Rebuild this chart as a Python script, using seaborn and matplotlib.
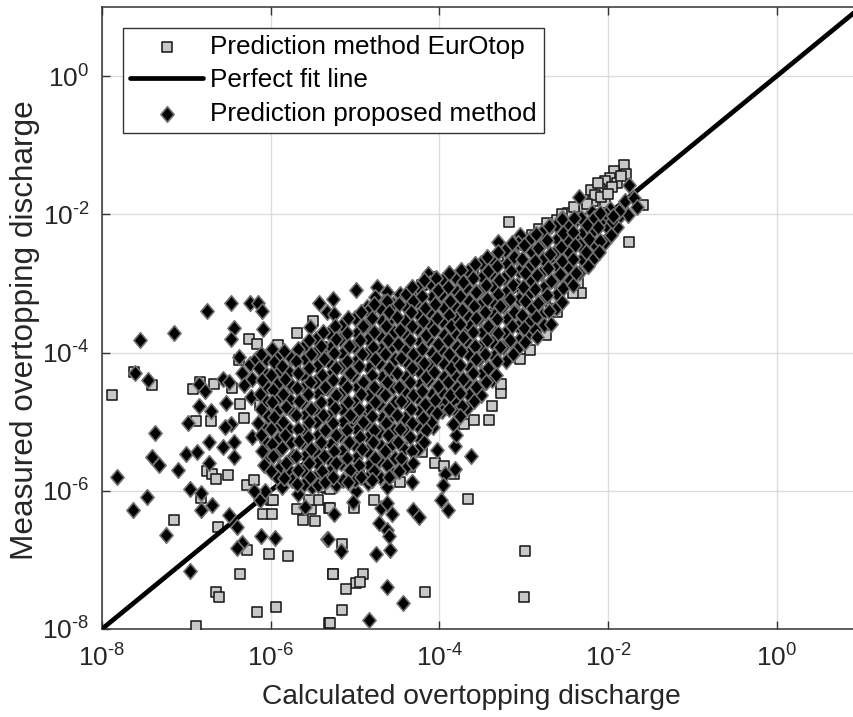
import numpy as np
import pandas as pd
import matplotlib
matplotlib.use("Agg")
import matplotlib.pyplot as plt
from matplotlib.path import Path
import seaborn as sns

# values are log10 of (calculated, measured) discharge
eurotop_points = [
(-7.88,-4.61),(-7.62,-4.28),(-7.41,-4.47),(-6.84,-4.42),(-6.92,-4.53),(-6.67,-4.46),(-6.46,-4.51),(-6.36,-4.75),
(-6.32,-4.94),(-6.88,-4.99),(-6.71,-4.99),(-6.75,-5.72),(-6.69,-5.75),(-6.65,-5.83),(-6.51,-5.77),(-6.28,-5.92),
(-6.2,-5.85),(-6.83,-6.11),(-7.15,-6.42),(-6.63,-6.53),(-6.28,-6.85),(-6.02,-6.92),(-5.79,-6.94),(-6.36,-7.2),
(-6.65,-7.47),(-6.61,-7.54),(-5.94,-7.68),(-6.16,-7.75),(-6.88,-7.95),(-5.31,-7.92),(-5.26,-7.2),(-6.26,-3.81),
(-6.16,-3.87),(-5.69,-3.72),(-5.5,-3.54),(-5.42,-3.93),(-5.91,-3.89),(-6.38,-4.11),(-5.95,-4.47),(-6.13,-4.76),
(-6.0,-4.76),(-5.85,-4.57),(-5.59,-4.23),(-5.51,-4.12),(-6.0,-6.13),(-5.97,-6.13),(-6.09,-6.33),(-5.98,-6.33),
(-5.69,-6.27),(-5.62,-6.42),(-5.48,-6.44),(-5.52,-6.27),(-5.44,-6.13),(-5.55,-6.13),(-5.31,-6.25),(-5.33,-5.96),
(-5.38,-5.94),(-3.66,-6.12),(-2.98,-6.87),(-3.0,-7.54),(-4.17,-7.47),(-4.91,-7.2),(-5.26,-7.2),(-4.99,-7.34),
(-4.94,-7.32),(-5.11,-7.42),(-5.15,-7.73),(-5.3,-7.92),(-5.15,-6.77),(-4.78,-6.13),(-5.01,-6.25),(-5.3,-6.25),
(-4.05,-5.6),(-3.95,-5.64),(-3.83,-5.76),(-4.47,-5.87),(-4.66,-5.7),(-4.95,-5.77),(-3.41,-4.97),(-3.37,-4.78),
(-3.27,-4.59),(-3.27,-4.45),(-2.92,-3.97),(-3.04,-4.1),(-3.22,-3.82),(-3.71,-5.04),(-3.59,-4.97),(-4.07,-4.82),
(-3.95,-4.74),(-4.01,-4.88),(-4.62,-3.58),(-4.7,-3.48),(-4.6,-3.41),(-5.24,-3.72),(-5.39,-3.92),(-2.73,-3.75),
(-2.6,-3.41),(-4.39,-5.24),(-4.21,-5.44),(-4.64,-5.44),(-5.16,-5.36),(-4.35,-5.65),(-5.3,-5.97),(-1.81,-1.28),
(-1.79,-1.41),(-1.93,-1.37),(-1.98,-1.47),(-2.03,-1.52),(-1.89,-1.55),(-2.1,-1.64),(-2.2,-1.65),(-2.18,-1.8),
(-2.29,-1.92),(-1.59,-1.87),(-1.75,-2.4),(-3.17,-2.11),(-2.82,-2.21),(-2.48,-1.98),(-2.35,-3.0),(-2.32,-3.14),
(-2.41,-3.14),(-2.47,-3.01),(-2.67,-3.36),(-2.63,-3.22),(-2.03,-1.84),(-2.9,-2.3),(-3.05,-2.45),(-2.15,-1.72),
(-2.25,-1.85),(-2.6,-2.08),(-1.95,-1.6),(-2.08,-1.75),(-3.3,-2.6),(-3.6,-2.85),(-4.2,-3.02),(-4.1,-2.9),
(-2.4,-1.9),(-2.0,-1.7),(-2.12,-1.55),(-1.85,-1.45),(-2.55,-2.0),(-2.72,-2.12),
]

proposed_outliers = [
(-6.75,-3.4),(-6.47,-3.28),(-6.24,-3.28),(-6.15,-3.28),(-6.1,-3.4),(-7.55,-3.82),(-7.15,-3.72),(-6.43,-3.65),
(-6.47,-3.81),(-6.09,-3.66),(-5.43,-3.28),(-5.33,-3.41),(-5.53,-3.63),(-7.61,-4.3),(-7.45,-4.39),(-6.85,-4.46),
(-6.78,-4.56),(-6.57,-4.38),(-6.5,-4.42),(-6.53,-4.73),(-6.85,-4.78),(-6.71,-4.84),(-6.98,-5.02),(-6.47,-5.04),
(-6.54,-5.08),(-7.37,-5.16),(-6.73,-5.3),(-6.43,-5.3),(-6.57,-5.37),(-7.0,-5.47),(-6.87,-5.44),(-6.43,-5.51),
(-7.41,-5.51),(-7.33,-5.63),(-6.73,-5.6),(-7.1,-5.7),(-7.82,-5.8),(-6.96,-5.98),(-6.83,-6.03),(-7.47,-6.09),
(-6.69,-6.2),(-6.83,-6.28),(-7.63,-6.28),(-6.49,-6.35),(-6.4,-6.52),(-7.24,-6.64),(-6.34,-6.75),(-6.4,-6.83),
(-6.12,-6.66),(-5.95,-6.68),(-5.33,-6.7),(-6.96,-7.16),(-6.37,-4.07),(-6.25,-4.16),(-6.17,-4.09),(-6.34,-4.29),
(-6.22,-4.38),(-6.32,-4.47),(-6.23,-4.65),(-6.13,-6.13),(-6.07,-6.01),(-6.2,-6.01),(-5.87,-5.94),(-5.67,-6.05),
(-5.51,-5.95),(-5.59,-6.24),(-6.22,-5.22),(-4.99,-3.09),(-5.26,-3.22),(-4.74,-3.05),(-4.62,-3.12),(-4.47,-3.15),
(-4.27,-3.1),(-4.13,-2.86),(-4.66,-3.27),(-4.76,-3.19),(-5.25,-3.44),(-4.86,-3.34),(-3.62,-5.49),(-3.82,-5.68),
(-3.93,-5.76),(-3.96,-5.92),(-4.03,-5.41),(-3.82,-5.35),(-3.8,-5.19),(-3.84,-5.04),(-4.07,-5.08),(-4.33,-5.87),
(-4.62,-5.94),(-3.98,-6.14),(-3.9,-6.28),(-4.31,-6.28),(-4.24,-6.38),(-4.56,-6.33),(-4.69,-6.25),(-4.62,-6.18),
(-5.25,-6.33),(-4.99,-6.01),(-5.02,-6.16),(-4.85,-5.89),(-5.22,-5.92),(-4.72,-6.47),(-4.62,-6.57),(-4.6,-6.66),
(-4.58,-6.85),(-4.75,-6.92),(-5.32,-6.7),(-5.17,-6.87),(-4.62,-7.39),(-4.43,-7.63),(-4.83,-7.87),(-2.34,-1.75),
(-1.75,-1.58),(-1.8,-1.81),(-1.69,-1.77),(-1.66,-1.89),(-1.98,-1.92),(-1.76,-2.01),(-1.88,-2.05),(-3.04,-2.3),
(-3.31,-2.4),(-2.1,-2.11),(-2.19,-1.96),(-2.37,-2.07),(-2.54,-2.05),(-2.67,-2.17),(-2.23,-2.22),(-2.05,-2.4),
]

proposed_core = [
(-6.12,-4.02),(-6.14,-4.22),(-6.1,-4.4),(-6.13,-4.6),(-6.11,-4.82),(-6.15,-5.02),(-6.12,-5.2),(-6.1,-5.42),(-6.08,-5.62),
(-5.98,-3.95),(-5.96,-4.14),(-6.0,-4.33),(-5.97,-4.54),(-5.99,-4.72),(-5.96,-4.93),(-6.0,-5.11),(-5.98,-5.33),(-5.97,-5.5),(-6.0,-5.72),
(-5.84,-3.98),(-5.86,-4.2),(-5.83,-4.38),(-5.85,-4.6),(-5.82,-4.79),(-5.85,-5.0),(-5.83,-5.2),(-5.86,-5.38),(-5.82,-5.6),(-5.84,-5.82),
(-5.68,-3.95),(-5.7,-4.12),(-5.67,-4.3),(-5.69,-4.52),(-5.66,-4.7),(-5.7,-4.9),(-5.68,-5.1),(-5.66,-5.28),(-5.7,-5.5),(-5.67,-5.7),(-5.69,-5.9),
(-5.54,-3.82),(-5.52,-4.02),(-5.55,-4.22),(-5.53,-4.42),(-5.56,-4.6),(-5.52,-4.82),(-5.54,-5.0),(-5.56,-5.22),(-5.52,-5.4),(-5.55,-5.6),(-5.53,-5.8),
(-5.38,-3.7),(-5.4,-3.9),(-5.37,-4.1),(-5.39,-4.32),(-5.36,-4.5),(-5.4,-4.72),(-5.38,-4.9),(-5.36,-5.12),(-5.4,-5.3),(-5.37,-5.5),(-5.39,-5.72),(-5.36,-5.88),
(-5.24,-3.62),(-5.22,-3.8),(-5.25,-4.0),(-5.23,-4.22),(-5.26,-4.4),(-5.22,-4.62),(-5.24,-4.8),(-5.26,-5.02),(-5.22,-5.2),(-5.25,-5.42),(-5.23,-5.6),(-5.26,-5.8),
(-5.08,-3.5),(-5.1,-3.72),(-5.07,-3.9),(-5.09,-4.12),(-5.06,-4.3),(-5.1,-4.5),(-5.08,-4.72),(-5.06,-4.9),(-5.1,-5.12),(-5.07,-5.3),(-5.09,-5.52),(-5.06,-5.7),(-5.08,-5.88),
(-4.93,-3.42),(-4.91,-3.62),(-4.94,-3.82),(-4.92,-4.02),(-4.95,-4.2),(-4.91,-4.42),(-4.93,-4.6),(-4.95,-4.82),(-4.91,-5.0),(-4.94,-5.22),(-4.92,-5.4),(-4.95,-5.62),(-4.93,-5.8),
(-4.78,-3.3),(-4.8,-3.5),(-4.77,-3.7),(-4.79,-3.92),(-4.76,-4.1),(-4.8,-4.32),(-4.78,-4.5),(-4.76,-4.72),(-4.8,-4.92),(-4.77,-5.12),(-4.79,-5.3),(-4.76,-5.52),(-4.78,-5.72),(-4.8,-5.85),
(-4.62,-3.25),(-4.6,-3.42),(-4.63,-3.62),(-4.61,-3.82),(-4.64,-4.02),(-4.6,-4.22),(-4.62,-4.42),(-4.64,-4.62),(-4.6,-4.82),(-4.63,-5.02),(-4.61,-5.2),(-4.64,-5.42),(-4.62,-5.62),(-4.6,-5.8),
(-4.48,-3.3),(-4.5,-3.48),(-4.47,-3.68),(-4.49,-3.88),(-4.46,-4.08),(-4.5,-4.3),(-4.48,-4.5),(-4.46,-4.7),(-4.5,-4.9),(-4.47,-5.1),(-4.49,-5.3),(-4.46,-5.52),(-4.48,-5.72),
(-4.33,-3.05),(-4.31,-3.25),(-4.34,-3.42),(-4.32,-3.62),(-4.35,-3.82),(-4.31,-4.02),(-4.33,-4.22),(-4.35,-4.42),(-4.31,-4.62),(-4.34,-4.82),(-4.32,-5.02),(-4.35,-5.22),(-4.33,-5.42),(-4.31,-5.6),
(-4.18,-2.95),(-4.2,-3.18),(-4.17,-3.35),(-4.19,-3.55),(-4.16,-3.75),(-4.2,-3.95),(-4.18,-4.15),(-4.16,-4.35),(-4.2,-4.55),(-4.17,-4.75),(-4.19,-4.95),(-4.16,-5.12),(-4.18,-5.3),
(-4.04,-2.92),(-4.02,-3.1),(-4.05,-3.3),(-4.03,-3.5),(-4.06,-3.68),(-4.02,-3.88),(-4.04,-4.08),(-4.06,-4.28),(-4.02,-4.48),(-4.05,-4.68),(-4.03,-4.88),
(-3.88,-2.85),(-3.9,-3.05),(-3.87,-3.25),(-3.89,-3.45),(-3.86,-3.62),(-3.9,-3.82),(-3.88,-4.02),(-3.86,-4.22),(-3.9,-4.42),(-3.87,-4.62),(-3.89,-4.82),
(-3.74,-2.8),(-3.72,-2.98),(-3.75,-3.18),(-3.73,-3.38),(-3.76,-3.58),(-3.72,-3.78),(-3.74,-3.98),(-3.76,-4.18),(-3.72,-4.38),(-3.75,-4.58),(-3.73,-4.78),(-3.76,-4.92),
(-3.58,-2.72),(-3.6,-2.92),(-3.57,-3.12),(-3.59,-3.32),(-3.56,-3.5),(-3.6,-3.7),(-3.58,-3.9),(-3.56,-4.1),(-3.6,-4.3),(-3.57,-4.5),(-3.59,-4.7),
(-3.44,-2.62),(-3.42,-2.82),(-3.45,-3.02),(-3.43,-3.22),(-3.46,-3.42),(-3.42,-3.62),(-3.44,-3.82),(-3.46,-4.02),(-3.42,-4.22),(-3.45,-4.42),
(-3.3,-2.55),(-3.32,-2.75),(-3.29,-2.95),(-3.31,-3.15),(-3.28,-3.32),(-3.32,-3.52),(-3.3,-3.72),(-3.28,-3.92),(-3.32,-4.12),(-3.33,-4.33),
(-3.14,-2.42),(-3.12,-2.62),(-3.15,-2.82),(-3.13,-3.02),(-3.16,-3.22),(-3.12,-3.42),(-3.14,-3.62),(-3.16,-3.82),(-3.13,-4.02),
(-3.0,-2.45),(-3.02,-2.65),(-2.99,-2.85),(-3.01,-3.05),(-2.98,-3.25),(-3.02,-3.45),(-3.0,-3.65),(-2.98,-3.85),
(-2.85,-2.28),(-2.83,-2.48),(-2.86,-2.68),(-2.84,-2.88),(-2.87,-3.08),(-2.83,-3.28),(-2.85,-3.48),(-2.87,-3.68),(-2.84,-3.78),
(-2.7,-2.17),(-2.72,-2.37),(-2.69,-2.57),(-2.71,-2.77),(-2.68,-2.97),(-2.72,-3.17),(-2.7,-3.4),(-2.68,-3.58),
(-2.55,-2.07),(-2.53,-2.27),(-2.56,-2.47),(-2.54,-2.67),(-2.57,-2.87),(-2.53,-3.07),(-2.55,-3.27),
(-2.4,-2.05),(-2.42,-2.25),(-2.39,-2.45),(-2.41,-2.65),(-2.38,-2.85),(-2.42,-3.02),
(-2.25,-2.15),(-2.23,-2.35),(-2.26,-2.55),(-2.24,-2.75),
(-2.1,-1.98),(-2.12,-2.18),(-2.09,-2.38),(-2.11,-2.55),
(-1.95,-2.1),(-1.97,-2.3),(-1.94,-2.02),
]

proposed_core_between = [
(-6.05,-4.1),(-6.07,-4.3),(-6.04,-4.5),(-6.06,-4.7),(-6.03,-4.92),(-6.07,-5.1),(-6.05,-5.3),(-6.03,-5.5),
(-5.91,-4.05),(-5.89,-4.25),(-5.92,-4.45),(-5.9,-4.65),(-5.93,-4.85),(-5.89,-5.05),(-5.91,-5.25),(-5.93,-5.45),(-5.89,-5.65),(-5.92,-5.8),
(-5.76,-4.08),(-5.78,-4.28),(-5.75,-4.48),(-5.77,-4.68),(-5.74,-4.88),(-5.78,-5.1),(-5.76,-5.3),(-5.74,-5.5),(-5.78,-5.7),(-5.75,-5.85),
(-5.61,-3.9),(-5.59,-4.1),(-5.62,-4.32),(-5.6,-4.5),(-5.63,-4.72),(-5.59,-4.9),(-5.61,-5.12),(-5.63,-5.3),(-5.59,-5.5),(-5.62,-5.72),(-5.6,-5.9),
(-5.46,-3.8),(-5.48,-4.0),(-5.45,-4.2),(-5.47,-4.42),(-5.44,-4.6),(-5.48,-4.82),(-5.46,-5.0),(-5.44,-5.2),(-5.48,-5.42),(-5.45,-5.6),(-5.47,-5.8),(-5.44,-5.92),
(-5.31,-3.72),(-5.29,-3.92),(-5.32,-4.12),(-5.3,-4.32),(-5.33,-4.52),(-5.29,-4.72),(-5.31,-4.92),(-5.33,-5.12),(-5.29,-5.32),(-5.32,-5.52),(-5.3,-5.72),(-5.33,-5.85),
(-5.16,-3.6),(-5.18,-3.8),(-5.15,-4.02),(-5.17,-4.2),(-5.14,-4.42),(-5.18,-4.6),(-5.16,-4.82),(-5.14,-5.0),(-5.18,-5.2),(-5.15,-5.42),(-5.17,-5.6),(-5.14,-5.85),
(-5.0,-3.5),(-4.98,-3.72),(-5.01,-3.9),(-4.99,-4.12),(-5.02,-4.32),(-4.98,-4.5),(-5.0,-4.72),(-5.02,-4.92),(-4.98,-5.12),(-5.01,-5.32),(-4.99,-5.52),(-5.02,-5.72),(-5.0,-5.85),
(-4.85,-3.4),(-4.87,-3.6),(-4.84,-3.8),(-4.86,-4.0),(-4.83,-4.22),(-4.87,-4.42),(-4.85,-4.62),(-4.83,-4.82),(-4.87,-5.02),(-4.84,-5.22),(-4.86,-5.42),(-4.83,-5.62),(-4.85,-5.8),
(-4.7,-3.35),(-4.68,-3.55),(-4.71,-3.75),(-4.69,-3.95),(-4.72,-4.15),(-4.68,-4.35),(-4.7,-4.55),(-4.72,-4.75),(-4.68,-4.95),(-4.71,-5.15),(-4.69,-5.35),(-4.72,-5.55),(-4.7,-5.8),
(-4.55,-3.3),(-4.57,-3.5),(-4.54,-3.7),(-4.56,-3.9),(-4.53,-4.1),(-4.57,-4.3),(-4.55,-4.5),(-4.53,-4.72),(-4.57,-4.92),(-4.54,-5.12),(-4.56,-5.32),(-4.53,-5.52),(-4.55,-5.75),
(-4.4,-3.15),(-4.38,-3.35),(-4.41,-3.55),(-4.39,-3.75),(-4.42,-3.95),(-4.38,-4.15),(-4.4,-4.35),(-4.42,-4.55),(-4.38,-4.75),(-4.41,-4.95),(-4.39,-5.15),(-4.42,-5.4),(-4.4,-5.65),
(-4.25,-3.05),(-4.27,-3.25),(-4.24,-3.45),(-4.26,-3.65),(-4.23,-3.85),(-4.27,-4.05),(-4.25,-4.25),(-4.23,-4.45),(-4.27,-4.65),(-4.24,-4.85),(-4.26,-5.05),(-4.23,-5.25),(-4.25,-5.4),
(-4.11,-3.0),(-4.09,-3.2),(-4.12,-3.4),(-4.1,-3.6),(-4.13,-3.8),(-4.09,-4.0),(-4.11,-4.2),(-4.13,-4.4),(-4.09,-4.6),(-4.12,-4.8),(-4.1,-5.0),
(-3.96,-2.95),(-3.98,-3.15),(-3.95,-3.35),(-3.97,-3.55),(-3.94,-3.75),(-3.98,-3.95),(-3.96,-4.15),(-3.94,-4.35),(-3.98,-4.55),(-3.95,-4.75),(-3.97,-4.85),
(-3.81,-2.9),(-3.79,-3.12),(-3.82,-3.32),(-3.8,-3.52),(-3.83,-3.72),(-3.79,-3.92),(-3.81,-4.12),(-3.83,-4.32),(-3.79,-4.52),(-3.82,-4.72),(-3.8,-4.85),
(-3.66,-2.82),(-3.68,-3.05),(-3.65,-3.25),(-3.67,-3.45),(-3.64,-3.62),(-3.68,-3.82),(-3.66,-4.02),(-3.64,-4.22),(-3.68,-4.42),(-3.65,-4.62),(-3.67,-4.8),
(-3.51,-2.7),(-3.49,-2.9),(-3.52,-3.1),(-3.5,-3.3),(-3.53,-3.5),(-3.49,-3.7),(-3.51,-3.9),(-3.53,-4.1),(-3.49,-4.3),(-3.52,-4.5),(-3.5,-4.62),
(-3.37,-2.65),(-3.39,-2.85),(-3.36,-3.05),(-3.38,-3.25),(-3.35,-3.45),(-3.39,-3.65),(-3.37,-3.85),(-3.35,-4.05),(-3.39,-4.25),(-3.37,-4.4),
(-3.22,-2.52),(-3.2,-2.72),(-3.23,-2.92),(-3.21,-3.12),(-3.24,-3.32),(-3.2,-3.52),(-3.22,-3.72),(-3.24,-3.92),(-3.21,-4.12),
(-3.07,-2.42),(-3.09,-2.62),(-3.06,-2.82),(-3.08,-3.02),(-3.05,-3.22),(-3.09,-3.42),(-3.07,-3.62),(-3.05,-3.82),(-3.08,-3.95),
(-2.92,-2.35),(-2.9,-2.55),(-2.93,-2.75),(-2.91,-2.95),(-2.94,-3.15),(-2.9,-3.35),(-2.92,-3.55),(-2.94,-3.72),
(-2.78,-2.25),(-2.8,-2.45),(-2.77,-2.65),(-2.79,-2.85),(-2.76,-3.05),(-2.8,-3.25),(-2.78,-3.45),(-2.76,-3.6),
(-2.62,-2.15),(-2.6,-2.35),(-2.63,-2.55),(-2.61,-2.75),(-2.64,-2.95),(-2.6,-3.15),(-2.62,-3.35),
(-2.47,-2.15),(-2.49,-2.35),(-2.46,-2.55),(-2.48,-2.75),(-2.45,-2.95),
(-2.32,-2.05),(-2.3,-2.25),(-2.33,-2.45),(-2.31,-2.65),(-2.34,-2.85),
(-2.17,-2.05),(-2.19,-2.25),(-2.16,-2.45),(-2.18,-2.65),
(-2.02,-2.0),(-2.0,-2.2),(-2.03,-2.4),
(-1.87,-1.95),(-1.89,-2.18),
]

perfect_fit = [1e-8, 1e1]
tick_values = [1e-8, 1e-6, 1e-4, 1e-2, 1e0]
tick_labels = [r"$\mathdefault{10^{\text{-}8}}$", r"$\mathdefault{10^{\text{-}6}}$",
               r"$\mathdefault{10^{\text{-}4}}$", r"$\mathdefault{10^{\text{-}2}}$",
               r"$\mathdefault{10^{0}}$"]

sns.set_theme(style="white")
plt.rcParams.update({
    "font.family": ["Liberation Sans", "DejaVu Sans"],
    "mathtext.fontset": "custom",
    "mathtext.rm": "Liberation Sans",
    "mathtext.default": "rm",
    "axes.unicode_minus": False,
})

W, H = 854, 717
fig = plt.figure(figsize=(W / 100, H / 100), dpi=100)
L, R, T, B = 102, 861, 7, 629
ax = fig.add_axes([L / W, 1 - B / H, (R - L) / W, (B - T) / H])

sq = pd.DataFrame(eurotop_points, columns=["x", "y"])
di = pd.DataFrame(proposed_outliers + proposed_core_between + proposed_core, columns=["x", "y"])
sq[["x", "y"]] = 10.0 ** sq[["x", "y"]]
di[["x", "y"]] = 10.0 ** di[["x", "y"]]
diamond = Path([(0, -1), (0.85, 0), (0, 1), (-0.85, 0), (0, -1)], closed=True)

sns.scatterplot(data=sq, x="x", y="y", ax=ax, marker="s", s=52, color="#c8c8c8",
                edgecolor="#1a1a1a", linewidth=1.15, zorder=3,
                label="Prediction method EurOtop")
sns.lineplot(x=perfect_fit, y=perfect_fit, ax=ax, color="black", lw=3.4, zorder=3.5,
             label="Perfect fit line", errorbar=None)
sns.scatterplot(data=di, x="x", y="y", ax=ax, marker=diamond, s=125, color="black",
                edgecolor="#727272", linewidth=1.2, zorder=4,
                label="Prediction proposed method")

ax.set_xscale("log")
ax.set_yscale("log")
ax.set_xlim(1e-8, 1e1)
ax.set_ylim(1e-8, 1e1)
ax.set_xticks(tick_values, tick_labels)
ax.set_yticks(tick_values, tick_labels)
ax.minorticks_off()
ax.grid(True, color="#dcdcdc", lw=1.0)
ax.set_axisbelow(True)
ax.tick_params(which="major", direction="in", length=6, width=1.0, color="#333333",
               top=True, right=True, bottom=True, left=True,
               labelsize=19, labelcolor="#262626")
ax.tick_params(axis="x", pad=11)
ax.tick_params(axis="y", pad=9)
for s in ax.spines.values():
    s.set_color("#333333")
    s.set_linewidth(1.1)

ax.set_xlabel("Calculated overtopping discharge", fontsize=20.3, color="#262626")
ax.set_ylabel("Measured overtopping discharge", fontsize=22.7, color="#262626")
ax.xaxis.set_label_coords((471 - L) / (R - L), -(684 - B) / (B - T), transform=ax.transAxes)
ax.yaxis.set_label_coords((40 - L) / (R - L), (B - 330) / (B - T), transform=ax.transAxes)

leg = ax.legend(loc="upper left", bbox_to_anchor=(123 / W, 1 - 28 / H),
                bbox_transform=fig.transFigure, borderaxespad=0, fontsize=18.8,
                frameon=True, fancybox=False, framealpha=1, edgecolor="#333333",
                labelcolor="black", handlelength=2.8, handletextpad=0.27,
                labelspacing=0.36, borderpad=0.27, markerscale=1.0)
leg.get_frame().set_linewidth(1.0)
leg.set_zorder(10)

fig.savefig("out.png", dpi=100)
